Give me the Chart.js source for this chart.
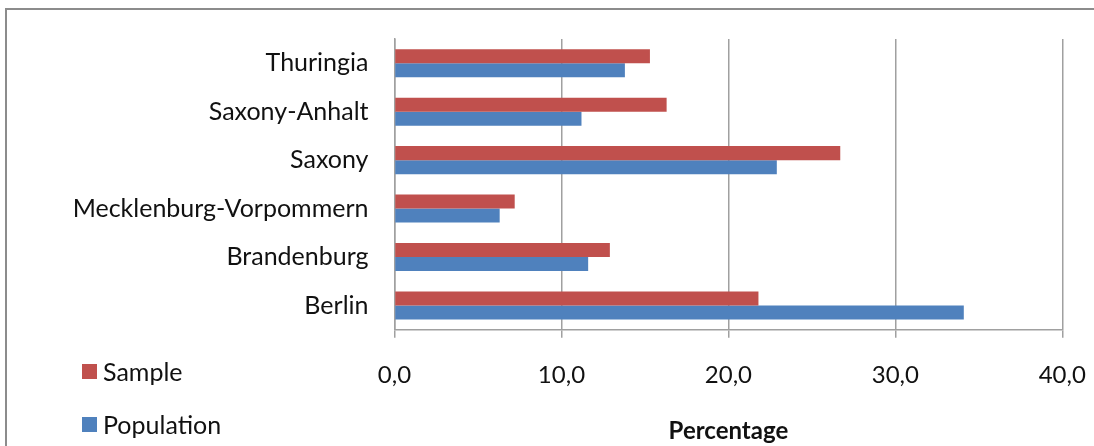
<!DOCTYPE html>
<html>
<head>
<meta charset="utf-8">
<script src="https://cdn.jsdelivr.net/npm/chart.js@4/dist/chart.umd.min.js"></script>
<style>
  html, body { margin: 0; padding: 0; background: #ffffff; overflow: hidden; }
  #wrap { position: relative; width: 1094px; height: 446px; }
  #frame {
    position: absolute; left: 5px; top: 8px; right: -10px; bottom: -10px;
    border-top: 2px solid #8c8c8c; border-left: 2px solid #8c8c8c;
    pointer-events: none;
  }
  canvas { position: absolute; left: 0; top: 0; }
</style>
</head>
<body>
<div id="wrap">
  <canvas id="chart" width="1094" height="446"></canvas>
  <div id="frame"></div>
</div>
<script>
// States, listed top to bottom
const states = ['Thuringia', 'Saxony-Anhalt', 'Saxony', 'Mecklenburg-Vorpommern', 'Brandenburg', 'Berlin'];
// Share of each state (percent)
const sampleValues = [15.3, 16.3, 26.7, 7.2, 12.9, 21.8];
const populationValues = [13.8, 11.2, 22.9, 6.3, 11.6, 34.1];
// Axis tick labels (decimal comma)
const tickLabels = ['0,0', '10,0', '20,0', '30,0', '40,0'];

const FONT = 'Lato, "Open Sans", sans-serif';
const GRID = '#a0a0a0';

// Vertical legend in the lower left corner, built from the datasets
const sideLegend = {
  id: 'sideLegend',
  afterDraw(chart) {
    const ctx = chart.ctx;
    const rows = [371.5, 424.5];
    ctx.save();
    ctx.font = '25px ' + FONT;
    ctx.textBaseline = 'middle';
    ctx.textAlign = 'left';
    chart.data.datasets.forEach((ds, i) => {
      const y = rows[i];
      ctx.fillStyle = ds.backgroundColor;
      ctx.fillRect(82, y - 7.5, 15, 15);
      ctx.fillStyle = '#111111';
      ctx.fillText(ds.label, 103, y + 1);
    });
    ctx.restore();
  }
};

new Chart(document.getElementById('chart'), {
  type: 'bar',
  data: {
    labels: states,
    datasets: [
      { label: 'Sample', data: sampleValues, backgroundColor: '#C0504D' },
      { label: 'Population', data: populationValues, backgroundColor: '#4F81BD' }
    ]
  },
  options: {
    indexAxis: 'y',
    responsive: false,
    animation: false,
    devicePixelRatio: 1,
    categoryPercentage: 0.578,
    barPercentage: 1.0,
    layout: { padding: { top: 39, right: 31.7, left: 0, bottom: 0 } },
    plugins: {
      legend: { display: false },
      tooltip: { enabled: false }
    },
    scales: {
      x: {
        min: 0,
        max: 40,
        ticks: {
          stepSize: 10,
          color: '#111111',
          padding: 23,
          font: { family: FONT, size: 24 },
          callback: (v, i) => tickLabels[i]
        },
        grid: { color: GRID, lineWidth: 1.5, tickLength: 8, tickColor: GRID },
        border: { color: GRID, width: 1.5 },
        title: {
          display: true,
          text: 'Percentage',
          color: '#111111',
          font: { family: FONT, size: 24, weight: 'bold' },
          padding: { top: 0, bottom: 0 }
        },
        afterFit(scale) {
          scale.height = 116.3;
          scale.paddingLeft = 0;
          scale.paddingRight = 0;
        }
      },
      y: {
        ticks: {
          color: '#111111',
          padding: 26,
          font: { family: FONT, size: 25 }
        },
        grid: { display: false, drawTicks: false },
        border: { color: GRID, width: 1.5 },
        afterFit(scale) {
          scale.width = 394.5;
          scale.paddingTop = 0;
          scale.paddingBottom = 0;
        }
      }
    }
  },
  plugins: [sideLegend]
});
</script>
</body>
</html>
